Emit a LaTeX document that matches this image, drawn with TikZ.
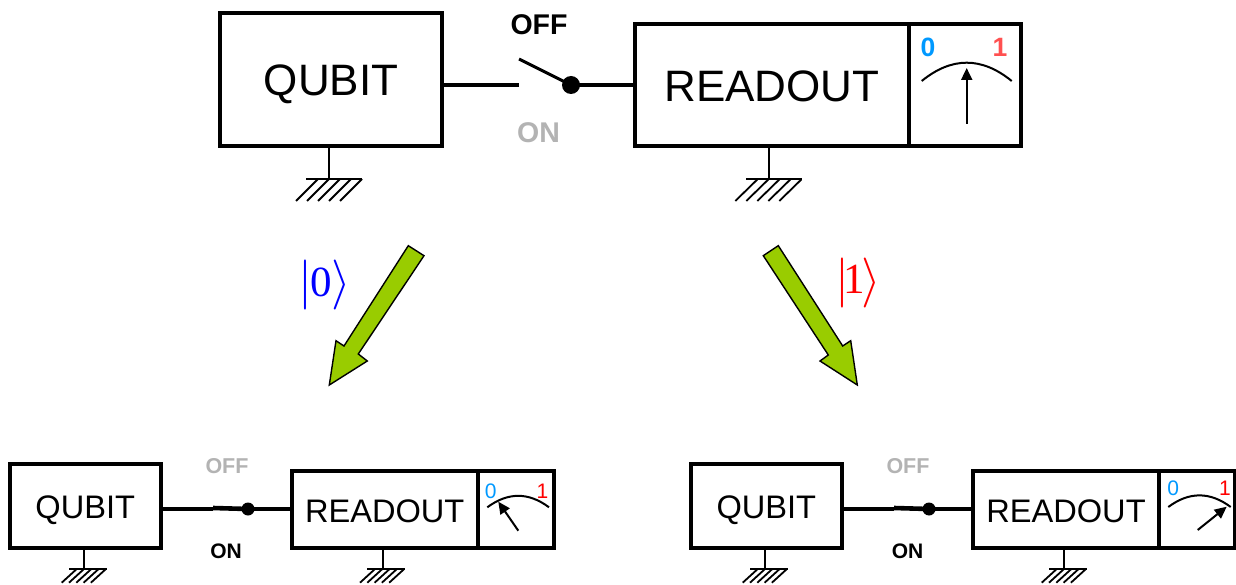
\documentclass[tikz,border=0pt]{standalone}
\usepackage{graphicx}
\usepackage{fontspec}
\setmainfont{Liberation Sans}
\newfontfamily\ketfont{Liberation Serif}
\usetikzlibrary{arrows.meta}
\definecolor{meterblue}{HTML}{0099FF}
\definecolor{meterred}{HTML}{FF5050}
\definecolor{offgray}{HTML}{B3B3B3}
\definecolor{leaf}{HTML}{99CC00}
\newcommand{\px}[1]{\fontsize{#1}{#1}\selectfont}
\newcommand{\drop}[2]{\raisebox{-#1pt}[0pt][0pt]{#2}}
% ground symbol: #1 stem top, #2 stem x, #3 bar y, #4 left, #5 right, #6 bottom y, #7 hatch dx, #8 first hatch bottom x, #9 hatch spacing
\newcommand{\groundmark}[9]{%
  \draw[groundline] (#1) -- (#2,#3);
  \draw[groundline] (#4,#3) -- (#5,#3);
  \foreach \k in {0,...,4}{\draw[hatchline] ({#8+\k*#9},#6) -- ({#8+\k*#9+#7},#3);}
}
\tikzset{
  x=1pt,y=-1pt,
  bigbox/.style={draw,line width=4pt,outer sep=0pt,inner sep=0pt,text=black},
  smallbox/.style={draw,line width=4pt,outer sep=0pt,inner sep=0pt,text=black},
  wire/.style={line width=4.6pt},
  lever/.style={line width=3pt},
  pivot/.style={circle,fill=black,inner sep=0pt,outer sep=0pt},
  groundline/.style={line width=2pt},
  hatchline/.style={line width=1.8pt},
  dial/.style={line width=2pt},
  needle/.style={line width=2pt,-{Triangle[length=12pt,width=11pt]}},
  needlesmall/.style={line width=2pt,-{Triangle[length=12pt,width=11pt]}},
  blockarrow/.style={draw=black,fill=leaf,line width=1.4pt,line join=miter},
  swlabel/.style={font=\bfseries,inner sep=0pt},
}
\begin{document}
\begin{tikzpicture}
\useasboundingbox (0,0) rectangle (1236,585);
\fill[white] (0,0) rectangle (1236,585);

% ---- top row
\node[bigbox,minimum width=221.5pt,minimum height=133.5pt,font=\px{44}] (q) at (331,79.5) {\drop{16.5}{QUBIT}};
\node[bigbox,minimum width=273.7pt,minimum height=122pt,font=\px{44}] (r) at (772,85) {\drop{16.7}{READOUT}};
\node[bigbox,minimum width=112pt,minimum height=122pt] (m) at (964.7,85) {};
\node[pivot,minimum size=18pt] (p) at (571,85) {};
\coordinate (sw) at (519,85);
\coordinate (swt) at (519,59);
\draw[wire] (q.east |- sw) -- (sw);
\draw[wire] (p.center) -- (r.west |- p.center);
\draw[lever] (swt) -- (p.center);
\node[swlabel,font=\bfseries\px{28.5}] (off) at (539,25) {OFF};
\node[swlabel,font=\bfseries\px{28.5},text=offgray] (on) at (538.5,133) {ON};
\groundmark{329,146}{329}{179}{306}{362}{201}{22}{296}{11}
\groundmark{768.7,146}{768.7}{179.5}{746}{801.7}{201}{22}{735.3}{11}
\node[font=\bfseries\px{26.5},text=meterblue,inner sep=0pt] (m0) at (928,47) {0};
\node[font=\bfseries\px{26.5},text=meterred,inner sep=0pt] (m1) at (1000,47) {1};
\draw[dial] (921.7,81) .. controls (951.7,56.6) and (981.7,56.6) .. (1011.7,81);
\coordinate (nb) at (966.7,123.7);
\coordinate (nt) at (966.7,68);
\draw[needle] (nb) -- (nt);

% ---- block arrows and kets
\draw[blockarrow] (408.3,245.7) -- (424,255.7) -- (358.3,354) -- (367.3,361) -- (329.3,385) -- (336,340.7) -- (344,346) -- cycle;
\draw[blockarrow] (763.3,255.7) -- (778.3,245.7) -- (842.7,346) -- (850.7,340.7) -- (857.3,385) -- (820,361) -- (828.3,355) -- cycle;
\node[inner sep=0pt,text=blue] (k0) at (324.5,285) {\raisebox{-1.5pt}{\scalebox{5}{$|$}}\kern-1.5pt{\ketfont\px{43}0}\kern-0.5pt\raisebox{-1.5pt}{\scalebox{5}{$\rangle$}}};
\node[inner sep=0pt,text=red] (k1) at (858.5,283) {\raisebox{-1.5pt}{\scalebox{5}{$|$}}\kern-6pt{\ketfont\px{43}1}\kern-3.5pt\raisebox{-1.5pt}{\scalebox{5}{$\rangle$}}};

% ---- bottom left
\node[smallbox,minimum width=150.7pt,minimum height=84.3pt,font=\px{32.6}] (ql) at (85.3,506.2) {\drop{12}{QUBIT}};
\node[smallbox,minimum width=186pt,minimum height=77.3pt,font=\px{32.6}] (rl) at (384.7,509.7) {\drop{12.3}{READOUT}};
\node[smallbox,minimum width=76.6pt,minimum height=77.3pt] (ml) at (516,509.7) {};
\node[pivot,minimum size=13pt] (pl) at (248,509) {};
\coordinate (swl) at (213,508);
\draw[wire] (ql.east |- pl.center) -- (swl |- pl.center);
\draw[wire] (swl) -- (pl.center);
\draw[wire] (pl.center) -- (rl.west |- pl.center);
\node[swlabel,font=\bfseries\px{21.5},text=offgray] (offl) at (227,466) {OFF};
\node[swlabel,font=\bfseries\px{21}] (onl) at (226,551.7) {ON};
\groundmark{84,548}{84}{569}{69}{106.7}{582.7}{15}{61.7}{7.3}
\groundmark{382.7,548}{382.7}{569}{367.3}{405}{582.7}{15}{360}{7.3}
\node[font=\px{21},text=meterblue,inner sep=0pt] (ml0) at (490.7,491) {0};
\node[font=\px{21},text=red,inner sep=0pt] (ml1) at (542.5,491) {1};
\draw[dial] (487.3,507.3) .. controls (508,492) and (528.5,492) .. (549,507.3);
\coordinate (nlb) at (518.3,530.7);
\coordinate (nlt) at (498.3,501.7);
\draw[needlesmall] (nlb) -- (nlt);

% ---- bottom right
\node[smallbox,minimum width=150.7pt,minimum height=84.3pt,font=\px{32.6}] (qr) at (766.3,506.2) {\drop{12}{QUBIT}};
\node[smallbox,minimum width=186.6pt,minimum height=77.3pt,font=\px{32.6}] (rr) at (1066,509.7) {\drop{12.3}{READOUT}};
\node[smallbox,minimum width=76pt,minimum height=77.3pt] (mr) at (1197.3,509.7) {};
\node[pivot,minimum size=13pt] (pr) at (929,509) {};
\coordinate (swr) at (894,508);
\draw[wire] (qr.east |- pr.center) -- (swr |- pr.center);
\draw[wire] (swr) -- (pr.center);
\draw[wire] (pr.center) -- (rr.west |- pr.center);
\node[swlabel,font=\bfseries\px{21.5},text=offgray] (offr) at (908,466) {OFF};
\node[swlabel,font=\bfseries\px{21}] (onr) at (907.5,551.7) {ON};
\groundmark{765,548}{765}{569}{750}{787.7}{582.7}{15}{742.7}{7.3}
\groundmark{1064,548}{1064}{569}{1049}{1086.7}{582.7}{15}{1041.7}{7.3}
\node[font=\px{21},text=meterblue,inner sep=0pt] (mr0) at (1173.3,488.5) {0};
\node[font=\px{21},text=red,inner sep=0pt] (mr1) at (1225,488.5) {1};
\draw[dial] (1168.3,507) .. controls (1189,491.5) and (1210,491.5) .. (1230.7,507);
\coordinate (nrb) at (1197.7,530);
\coordinate (nrt) at (1226.7,506.7);
\draw[needlesmall] (nrb) -- (nrt);
\end{tikzpicture}
\end{document}
